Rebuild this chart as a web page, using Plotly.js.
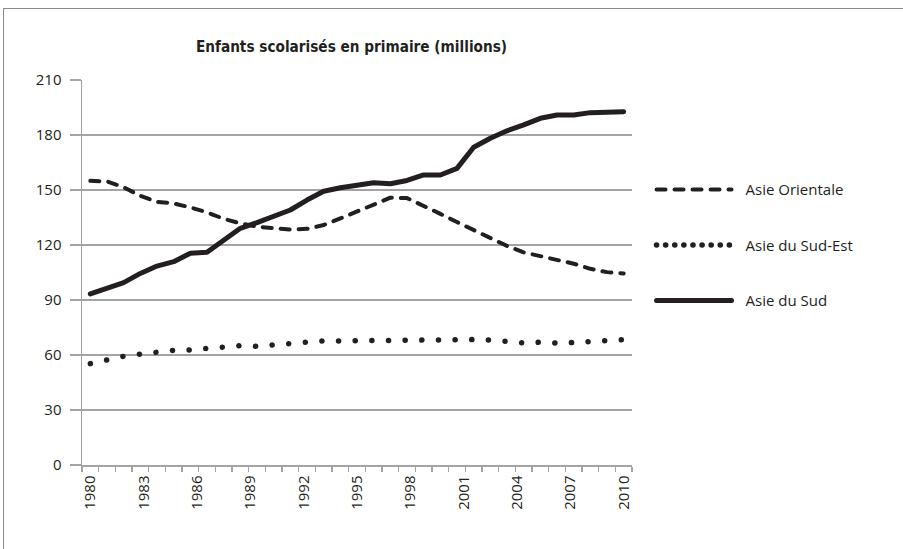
<!DOCTYPE html>
<html>
<head>
<meta charset="utf-8">
<script src="https://cdn.plot.ly/plotly-3.0.1.min.js"></script>
<style>
html, body { margin: 0; padding: 0; background: #ffffff; }
#frame { position: absolute; left: 3px; top: 8px; width: 902px; height: 545px;
         border-left: 1px solid #8c8c8c; border-top: 1px solid #8c8c8c; }
#chart { width: 899px; height: 540px; }
.scatterlayer .js-line, .legend .js-line { stroke-linecap: round; stroke-linejoin: round; }
.legend .legendtext { transform: translateX(9px); }
.legend .scrollbox { clip-path: none !important; }
</style>
</head>
<body>
<div id="frame"><div id="chart"></div></div>
<script>
// Tick labels shown on the x axis (first and last label span the whole series)
const yearLabels = [1980, 1983, 1986, 1989, 1992, 1995, 1998, 2001, 2004, 2007, 2010];

// Series names
const seriesNames = ["Asie Orientale", "Asie du Sud-Est", "Asie du Sud"];

// Enfants scolarisés en primaire (millions) — 33 evenly spaced points from 1980 to 2010
const asieOrientale = [155, 154.7, 151.5, 146.8, 143.5, 142.7, 140.5, 137.8, 134.3, 131.8,
                       130, 129.1, 128.4, 128.8, 130.9, 134.5, 138.2, 142.2, 145.8, 145.6,
                       141.5, 137, 132.5, 128, 124, 119.5, 116, 113.8, 112, 109.8,
                       107, 105.2, 104.5];

const asieSudEst = [55.3, 57.3, 59.3, 60.5, 61.8, 62.5, 62.8, 63.7, 64.5, 65.1,
                    64.8, 65.7, 66.6, 67.3, 67.7, 67.7, 67.8, 68, 68.3, 68.6,
                    68.2, 68.2, 68.5, 68.4, 68.2, 67.5, 66.6, 67, 66.5, 66.8,
                    67.5, 67.9, 68.4];

const asieSud = [93.3, 96.4, 99.5, 104.5, 108.5, 110.9, 115.5, 116, 122.7, 129.1,
                 132.2, 135.5, 139.1, 144.5, 149.3, 151.2, 152.4, 154, 153.4, 155.2,
                 158.2, 158.2, 161.8, 173.3, 178.2, 182.3, 185.5, 189.1, 190.9, 190.9,
                 192.2, 192.4, 192.7];

// Positions: points spread evenly between the first and last labelled year
const firstYear = yearLabels[0], lastYear = yearLabels[yearLabels.length - 1];
const step = (lastYear - firstYear) / (asieSud.length - 1);
const xPos = asieSud.map((_, k) => firstYear + k * step);

const ink = '#231f20';
const grid = '#a3a3a3';
const tickFont = { family: 'Open Sans, Noto Sans, sans-serif', size: 15, color: ink };

const traces = [
  { x: xPos, y: asieOrientale, name: seriesNames[0], mode: 'lines', legendgroup: 'a',
    line: { color: ink, width: 4, dash: '9px,9px' } },
  { x: xPos, y: asieSudEst, name: seriesNames[1], mode: 'lines', legendgroup: 'b',
    line: { color: ink, width: 5.5, dash: '0.1px,16.55px' } },
  { x: xPos, y: asieSud, name: seriesNames[2], mode: 'lines', legendgroup: 'c',
    line: { color: ink, width: 5 } }
];

const layout = {
  width: 899, height: 540,
  margin: { l: 78, r: 271, t: 71, b: 84 },
  paper_bgcolor: '#ffffff', plot_bgcolor: '#ffffff',
  showlegend: true,
  title: {
    text: '<b>Enfants scolarisés en primaire (millions)</b>',
    font: { family: 'Liberation Sans Narrow, DejaVu Sans Condensed, sans-serif', size: 15.2, color: ink },
    xref: 'paper', x: 0.49, xanchor: 'center',
    yref: 'container', y: 0.93, yanchor: 'middle'
  },
  xaxis: {
    type: 'linear',
    range: [firstYear - step / 2, lastYear + step / 2],
    tickmode: 'array', tickvals: yearLabels, ticktext: yearLabels.map(String),
    tickangle: -90, ticks: '', ticklabelstandoff: 3,
    tickfont: tickFont,
    showgrid: false, zeroline: false,
    showline: true, linecolor: grid, linewidth: 1.5,
    minor: { tick0: firstYear - step / 2, dtick: step, ticks: 'outside', ticklen: 5,
             tickcolor: grid, tickwidth: 1.2, showgrid: false }
  },
  yaxis: {
    range: [0, 210], dtick: 30, tick0: 0,
    tickfont: tickFont,
    ticks: 'outside', ticklen: 11, tickcolor: grid, tickwidth: 1.5,
    ticklabelstandoff: 5,
    showgrid: true, gridcolor: grid, gridwidth: 1.5,
    zeroline: false,
    showline: true, linecolor: grid, linewidth: 1.5
  },
  legend: {
    x: 1.0355, xanchor: 'left', y: 0.758, yanchor: 'top',
    font: { family: 'Open Sans, Noto Sans, sans-serif', size: 15, color: ink },
    tracegroupgap: 33, itemwidth: 75,
    bgcolor: 'rgba(0,0,0,0)'
  }
};

Plotly.newPlot('chart', traces, layout, { staticPlot: true, displayModeBar: false }).then(() => {
  const items = document.querySelectorAll('.legend .traces');
  if (items.length > 1) {
    const l = items[1].querySelector('.js-line');
    if (l) l.style.strokeDasharray = '0.1px, 9px';
  }
});
</script>
</body>
</html>
